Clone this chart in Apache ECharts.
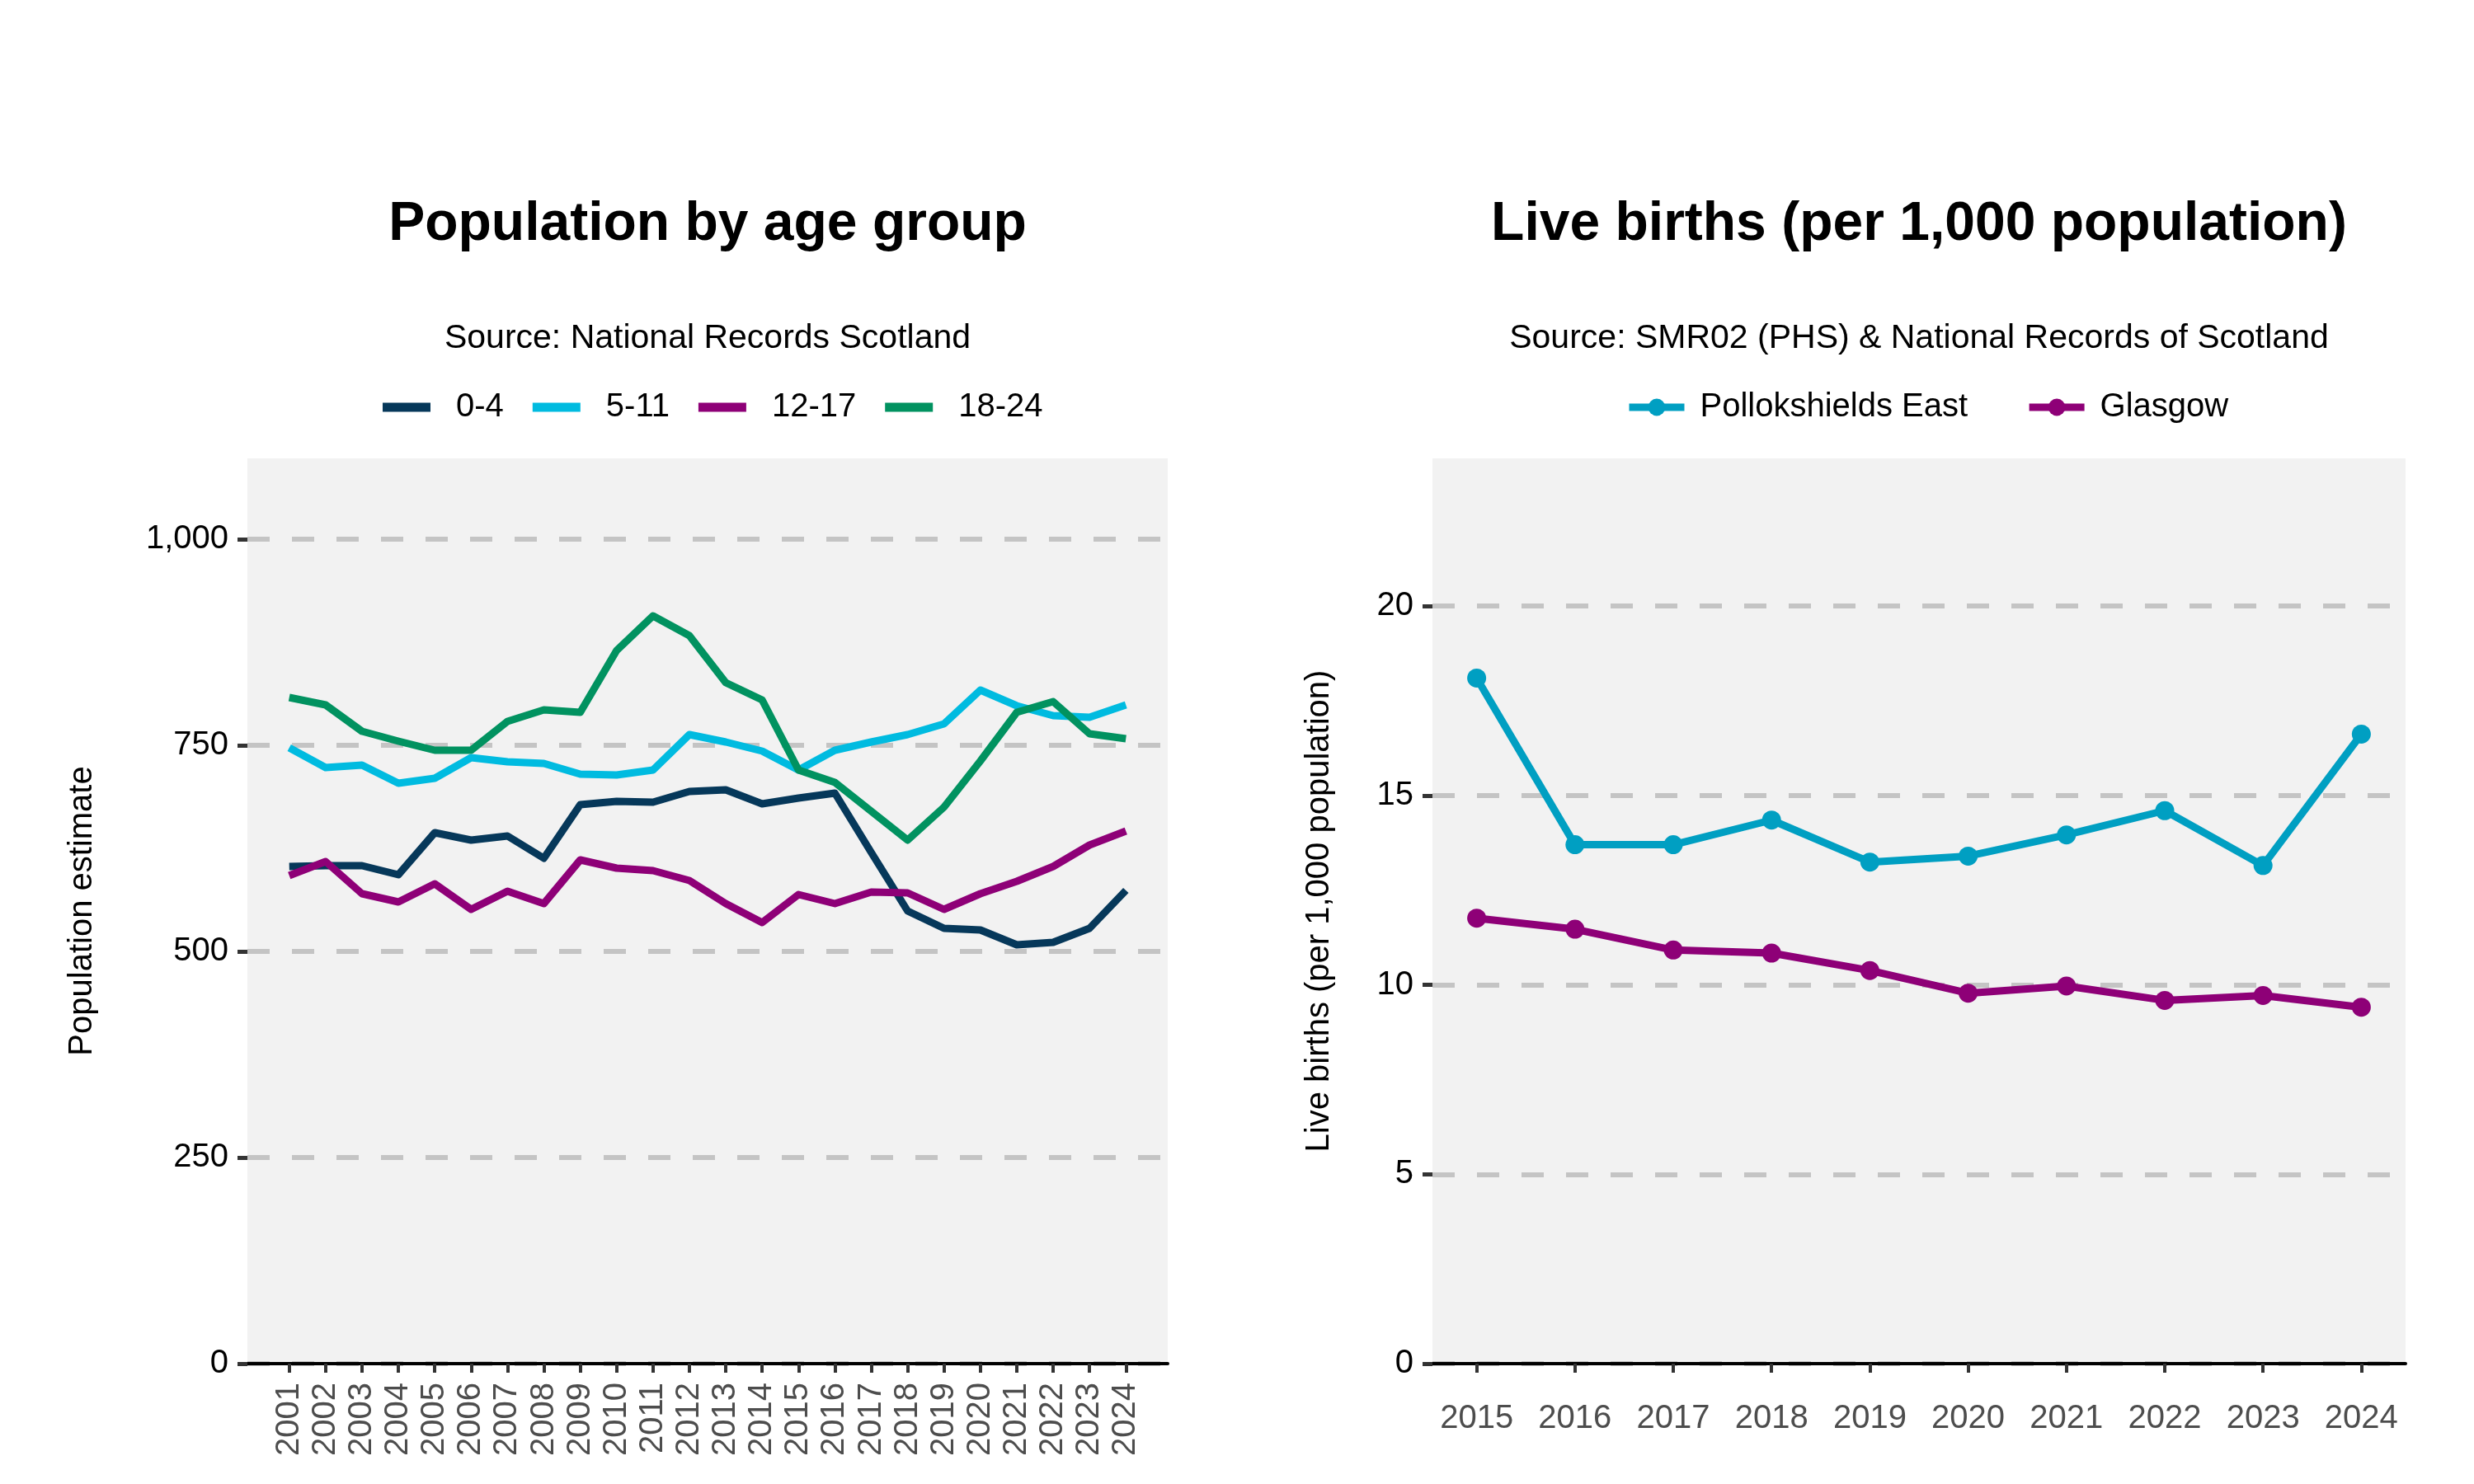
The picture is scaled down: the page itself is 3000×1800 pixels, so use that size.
<!DOCTYPE html>
<html>
<head>
<meta charset="utf-8">
<title>Population by age group / Live births</title>
<script src="https://cdn.jsdelivr.net/npm/echarts@6/dist/echarts.min.js"></script>
<style>
  html, body { margin: 0; padding: 0; background: #fff; }
  #chart { width: 3000px; height: 1800px; }
</style>
</head>
<body>
<div id="chart"></div>
<script>
// left panel: population estimate by age group
const years = [2001, 2002, 2003, 2004, 2005, 2006, 2007, 2008, 2009, 2010, 2011, 2012,
               2013, 2014, 2015, 2016, 2017, 2018, 2019, 2020, 2021, 2022, 2023, 2024];
const age0to4 = [603, 604, 604, 593, 644, 635, 640, 613, 678, 682, 681, 694,
                 696, 679, 686, 692, 620, 549, 528, 526, 508, 511, 528, 574];
const age5to11 = [747, 723, 726, 704, 710, 735, 730, 728, 715, 714, 720, 763,
                  754, 743, 720, 744, 754, 763, 776, 817, 798, 786, 784, 799];
const age12to17 = [592, 609, 570, 560, 582, 551, 573, 558, 611, 601, 598, 586,
                   558, 535, 569, 558, 572, 571, 551, 570, 585, 603, 629, 646];
const age18to24 = [808, 799, 767, 755, 744, 744, 779, 793, 790, 865, 907, 883,
                   826, 805, 720, 705, 670, 635, 675, 731, 790, 803, 764, 758];
const popTicks = [0, 250, 500, 750, 1000];

// right panel: live births per 1,000 population
const birthYears = [2015, 2016, 2017, 2018, 2019, 2020, 2021, 2022, 2023, 2024];
const pollokshieldsEast = [18.10, 13.70, 13.70, 14.35, 13.24, 13.40, 13.96, 14.60, 13.15, 16.62];
const glasgow = [11.76, 11.47, 10.92, 10.84, 10.38, 9.78, 9.97, 9.59, 9.72, 9.41];
const birthTicks = [0, 5, 10, 15, 20];

const font = 'Liberation Sans, Arial, sans-serif';
const gridLine = { color: '#c4c4c4', width: 6, type: [27, 27] };

function pairs(xs, ys) {
  return xs.map((x, i) => [x, ys[i]]);
}

function ageLine(name, values, color) {
  return {
    name: name, type: 'line', xAxisIndex: 0, yAxisIndex: 0,
    data: pairs(years, values),
    symbol: 'none', showSymbol: false,
    lineStyle: { width: 9, color: color, join: 'round' },
    itemStyle: { color: color }
  };
}

function birthLine(name, values, color) {
  return {
    name: name, type: 'line', xAxisIndex: 1, yAxisIndex: 1,
    data: pairs(birthYears, values),
    symbol: 'circle', symbolSize: 23,
    lineStyle: { width: 9, color: color, join: 'round' },
    itemStyle: { color: color }
  };
}

const chart = echarts.init(document.getElementById('chart'));
chart.setOption({
  animation: false,
  backgroundColor: '#fff',
  textStyle: { fontFamily: font },
  title: [
    { text: 'Population by age group', left: 858, top: 273, padding: 0,
      textAlign: 'center', textVerticalAlign: 'middle',
      textStyle: { fontSize: 66, fontWeight: 'bold', color: '#000', fontFamily: font } },
    { text: 'Source: National Records Scotland', left: 858, top: 411, padding: 0,
      textAlign: 'center', textVerticalAlign: 'middle',
      textStyle: { fontSize: 41, fontWeight: 'normal', color: '#000', fontFamily: font } },
    { text: 'Live births (per 1,000 population)', left: 2327, top: 273, padding: 0,
      textAlign: 'center', textVerticalAlign: 'middle',
      textStyle: { fontSize: 66, fontWeight: 'bold', color: '#000', fontFamily: font } },
    { text: 'Source: SMR02 (PHS) & National Records of Scotland', left: 2327, top: 411, padding: 0,
      textAlign: 'center', textVerticalAlign: 'middle',
      textStyle: { fontSize: 41, fontWeight: 'normal', color: '#000', fontFamily: font } }
  ],
  legend: [
    { data: ['0-4', '5-11', '12-17', '18-24'], left: 464, top: 474, padding: 0,
      icon: 'rect', itemWidth: 58, itemHeight: 11, itemGap: 35,
      textStyle: { fontSize: 40, color: '#000', padding: [0, 0, 0, 26] } },
    { data: ['Pollokshields East', 'Glasgow'], left: 1971, top: 474, padding: 0,
      itemWidth: 67, itemHeight: 26, itemGap: 70,
      lineStyle: { width: 9 },
      textStyle: { fontSize: 40, color: '#000', padding: [0, 0, 0, 14] } }
  ],
  grid: [
    { left: 300, top: 556, width: 1116, height: 1098, show: true,
      backgroundColor: '#f2f2f2', borderWidth: 0 },
    { left: 1737, top: 556, width: 1180, height: 1098, show: true,
      backgroundColor: '#f2f2f2', borderWidth: 0 }
  ],
  xAxis: [
    { gridIndex: 0, type: 'value', min: 1999.85, max: 2025.15,
      axisLine: { show: true, onZero: false, lineStyle: { color: '#000', width: 4 } },
      axisTick: { show: true, customValues: years, length: 11, lineStyle: { color: '#333', width: 4 } },
      axisLabel: { customValues: years, rotate: 90, margin: 23, fontSize: 40, color: '#4d4d4d',
                   formatter: v => String(v) },
      splitLine: { show: false } },
    { gridIndex: 1, type: 'value', min: 2014.55, max: 2024.45,
      axisLine: { show: true, onZero: false, lineStyle: { color: '#000', width: 4 } },
      axisTick: { show: true, customValues: birthYears, length: 11, lineStyle: { color: '#333', width: 4 } },
      axisLabel: { customValues: birthYears, margin: 47, fontSize: 40, color: '#4d4d4d',
                   formatter: v => String(v) },
      splitLine: { show: false } }
  ],
  yAxis: [
    { gridIndex: 0, type: 'value', min: 0, max: 1098, interval: 250,
      name: 'Population estimate', nameLocation: 'middle', nameGap: 180,
      nameTextStyle: { fontSize: 40, color: '#000' },
      axisLine: { show: false },
      axisTick: { show: true, customValues: popTicks, length: 12, lineStyle: { color: '#333', width: 5 } },
      axisLabel: { customValues: popTicks, margin: 23, fontSize: 40, color: '#000',
                   formatter: v => v.toLocaleString('en-US') },
      splitLine: { show: true, lineStyle: gridLine } },
    { gridIndex: 1, type: 'value', min: 0, max: 23.9, interval: 5,
      name: 'Live births (per 1,000 population)', nameLocation: 'middle', nameGap: 117,
      nameTextStyle: { fontSize: 40, color: '#000' },
      axisLine: { show: false },
      axisTick: { show: true, customValues: birthTicks, length: 12, lineStyle: { color: '#333', width: 5 } },
      axisLabel: { customValues: birthTicks, margin: 23, fontSize: 40, color: '#000',
                   formatter: v => String(v) },
      splitLine: { show: true, lineStyle: gridLine } }
  ],
  series: [
    ageLine('0-4', age0to4, '#06385a'),
    ageLine('5-11', age5to11, '#00bbe0'),
    ageLine('12-17', age12to17, '#8e0077'),
    ageLine('18-24', age18to24, '#019260'),
    birthLine('Pollokshields East', pollokshieldsEast, '#009fc2'),
    birthLine('Glasgow', glasgow, '#8e0077')
  ]
});
</script>
</body>
</html>
